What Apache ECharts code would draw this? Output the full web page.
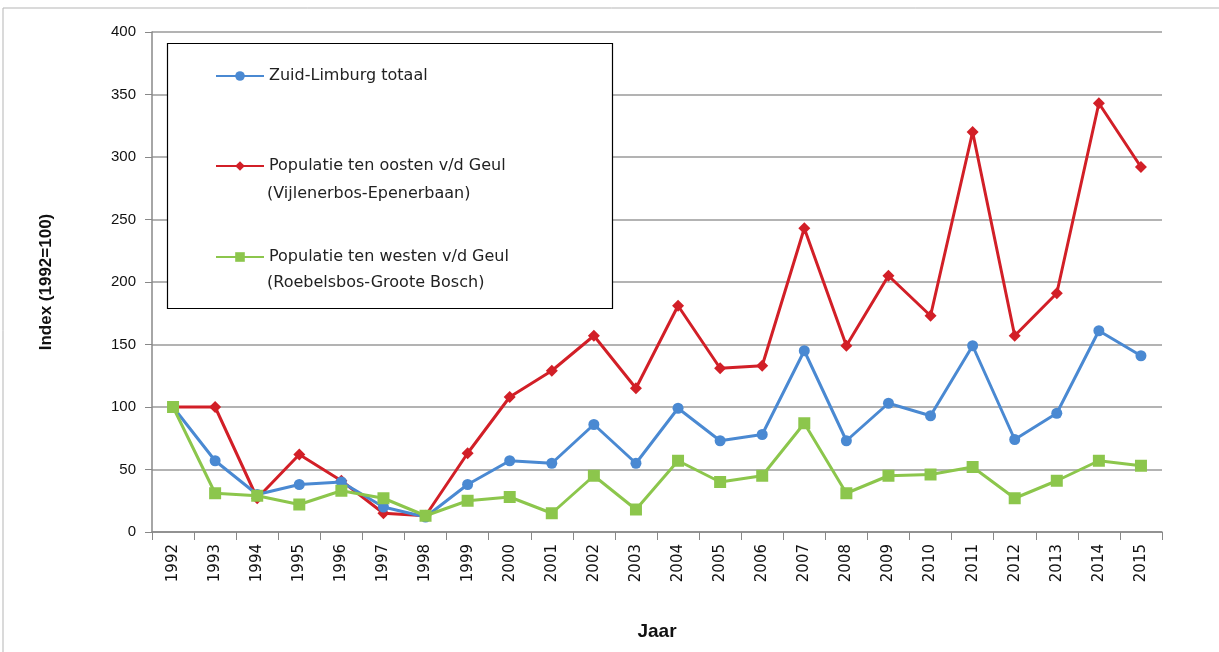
<!DOCTYPE html>
<html>
<head>
<meta charset="utf-8">
<script src="https://cdn.jsdelivr.net/npm/echarts@6/dist/echarts.min.js"></script>
<style>html,body{margin:0;padding:0;background:#fff}#c{width:1219px;height:652px}</style>
</head>
<body>
<div id="c"></div>
<script>
const years = ['1992','1993','1994','1995','1996','1997','1998','1999','2000','2001','2002','2003','2004','2005','2006','2007','2008','2009','2010','2011','2012','2013','2014','2015'];
const totaal = [100,57,30,38,40,20,12,38,57,55,86,55,99,73,78,145,73,103,93,149,74,95,161,141];
const oosten = [100,100,27,62,41,15,13,63,108,129,157,115,181,131,133,243,149,205,173,320,157,191,343,292];
const westen = [100,31,29,22,33,27,13,25,28,15,45,18,57,40,45,87,31,45,46,52,27,41,57,53];
const yTicks = [0,50,100,150,200,250,300,350,400];
const names = ['Zuid-Limburg totaal','Populatie ten oosten v/d Geul','Populatie ten westen v/d Geul'];
const subNames = ['(Vijlenerbos-Epenerbaan)','(Roebelsbos-Groote Bosch)'];

const colors = ['#4a89d2','#d21f27','#8cc64c'];
const chart = echarts.init(document.getElementById('c'), null, {renderer:'canvas'});
const legendFont = {fontFamily:'DejaVu Sans', fontSize:16, color:'#222'};
function mkLegend(i, top){
  return {data:[names[i]], left:215, top:top, itemWidth:48, itemHeight:12, itemGap:0, z:20,
    textStyle:legendFont, selectedMode:false, padding:0};
}
chart.setOption({
  animation:false,
  backgroundColor:'#fff',
  grid:{left:152, right:57, top:32, bottom:120, containLabel:false},
  legend:[mkLegend(0,68), mkLegend(1,158), mkLegend(2,249)],
  graphic:[
    {type:'rect', shape:{x:3,y:8,width:1240,height:660}, style:{fill:'none', stroke:'#b5b5b5', lineWidth:1}, silent:true, z:-10},
    {type:'rect', shape:{x:167.5,y:43.5,width:445,height:265}, style:{fill:'#fff', stroke:'#000', lineWidth:1.2}, silent:true, z:1},
    {type:'text', left:267, top:186, style:{text:subNames[0], font:'16px "DejaVu Sans"', fill:'#222'}, z:21},
    {type:'text', left:267, top:275, style:{text:subNames[1], font:'16px "DejaVu Sans"', fill:'#222'}, z:21}
  ],
  xAxis:{
    type:'category', data:years, boundaryGap:true,
    name:'Jaar', nameLocation:'middle', nameGap:90,
    nameTextStyle:{fontFamily:'Liberation Sans', fontSize:19, fontWeight:'bold', color:'#111'},
    axisLine:{lineStyle:{color:'#888', width:1.5}},
    axisTick:{show:true, length:8, lineStyle:{color:'#888'}},
    axisLabel:{rotate:90, fontFamily:'DejaVu Sans', fontSize:15, color:'#111', margin:12},
    splitLine:{show:false}
  },
  yAxis:{
    type:'value', min:0, max:400, interval:50,
    name:'Index (1992=100)', nameLocation:'middle', nameGap:97, nameRotate:90,
    nameTextStyle:{fontFamily:'Liberation Sans', fontSize:17, fontWeight:'bold', color:'#111'},
    axisLine:{show:true, lineStyle:{color:'#888', width:1.5}},
    axisTick:{show:true, length:7, lineStyle:{color:'#888'}},
    axisLabel:{fontFamily:'Liberation Sans', fontSize:15, color:'#111', margin:16,
      formatter:v=>yTicks.includes(v)?String(v):''},
    splitLine:{show:true, lineStyle:{color:'#9a9a9a', width:1.5}}
  },
  series:[
    {name:names[0], type:'line', data:totaal, symbol:'circle', symbolSize:11,
     lineStyle:{color:colors[0], width:3}, itemStyle:{color:colors[0]}, z:3},
    {name:names[1], type:'line', data:oosten, symbol:'diamond', symbolSize:12,
     lineStyle:{color:colors[1], width:3}, itemStyle:{color:colors[1]}, z:2},
    {name:names[2], type:'line', data:westen, symbol:'rect', symbolSize:12,
     lineStyle:{color:colors[2], width:3}, itemStyle:{color:colors[2]}, z:4}
  ]
});
</script>
</body>
</html>
